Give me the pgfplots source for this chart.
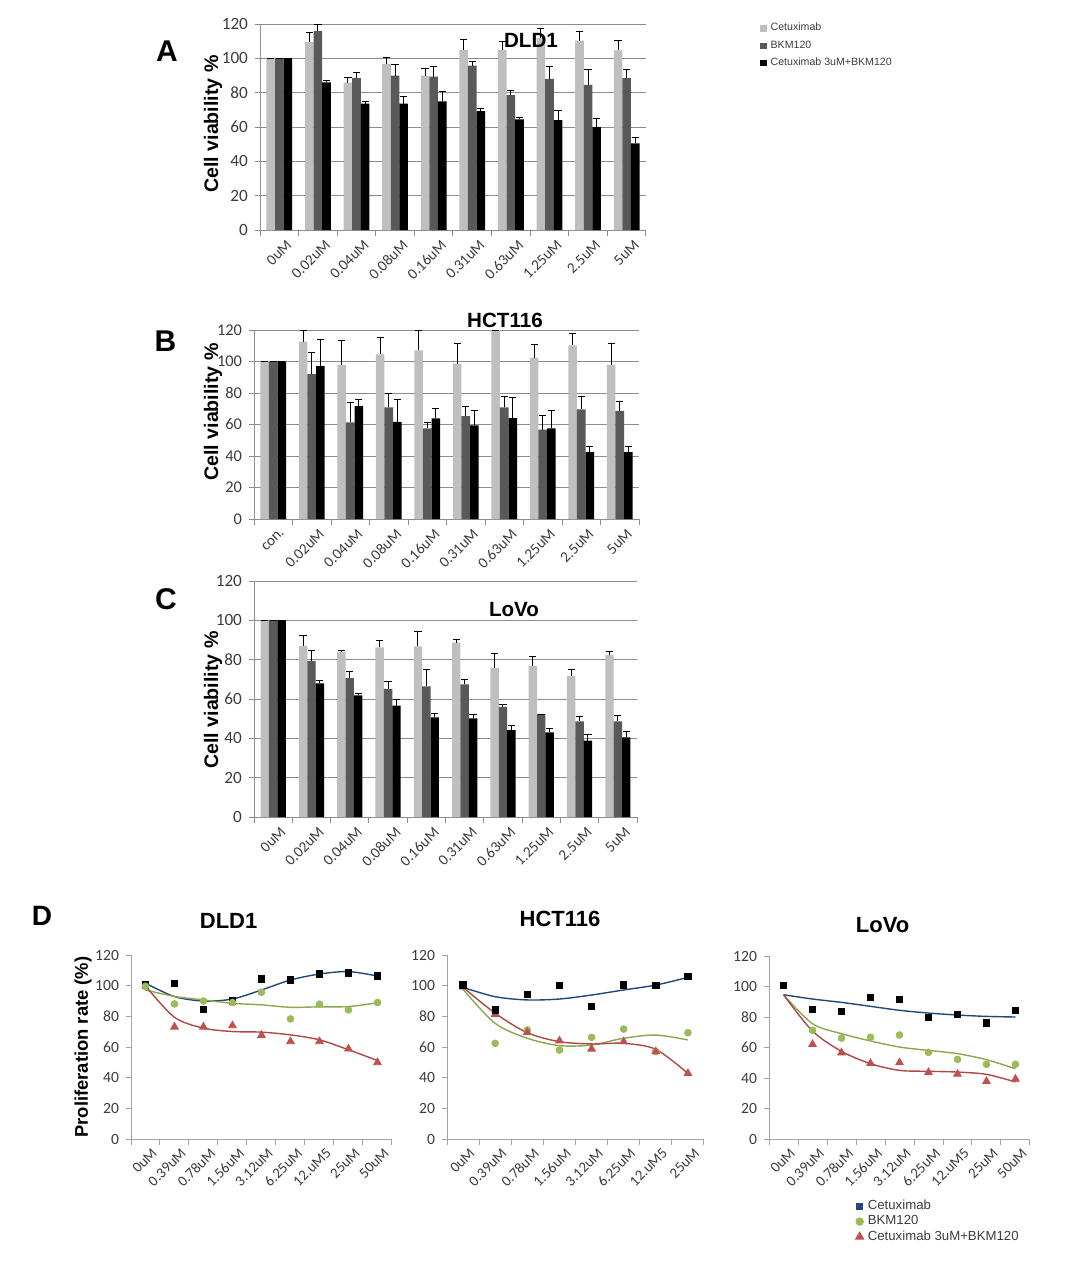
\documentclass[border=0pt]{standalone}
\usepackage{fontspec}
\setmainfont{Carlito}
\newfontfamily\arialf{Liberation Sans}
\usepackage{pgfplots}
\pgfplotsset{compat=1.18}
\usepackage{pgfplotstable}

\definecolor{lg}{RGB}{191,191,191}
\definecolor{dg}{RGB}{89,89,89}
\definecolor{cblue}{RGB}{31,73,125}
\definecolor{cgreen}{RGB}{155,187,89}
\definecolor{cred}{RGB}{192,80,77}
\definecolor{axgray}{RGB}{140,140,140}
\definecolor{tickt}{RGB}{60,60,60}

% Panel A: DLD1
\pgfplotstableread{
x c ce b be k ke
0 100 0 100 0 100 0
1 109.5 5.5 116 4 86 1
2 85.8 3.2 88.5 3.5 73.6 1.2
3 96.7 3.9 90 6.3 73.6 4.1
4 90 4 89.3 6.2 75 5.6
5 105 5.7 95.7 2.2 69.3 1.6
6 105 5 78.6 2.8 64.5 1.1
7 111.7 5.6 88 7 64 5.7
8 110.3 5.4 84.5 8.9 60 4.9
9 104.7 5.4 88.5 4.9 50.5 3.5
}\tA
% Panel B: HCT116
\pgfplotstableread{
x c ce b be k ke
0 100 0 100 0 100 0
1 112.6 7.4 92 13.6 97.1 16.9
2 97.8 15.4 61.4 12.5 71.7 3.9
3 104.5 10.8 70.9 8.9 61.6 14
4 107 13 57.6 3.6 63.9 6.1
5 98.6 12.7 65.4 5.9 59.5 9.7
6 120 0 70.9 6.8 64.1 12.9
7 102.4 8.5 56.7 9.1 57.6 11.6
8 110.3 7.6 69.6 8.1 42.5 3.8
9 97.8 13.7 68.6 5.9 42.5 3.8
}\tB
% Panel C: LoVo
\pgfplotstableread{
x c ce b be k ke
0 100 0 100 0 100 0
1 87 5.4 79.4 5.4 68 1.2
2 84 0.8 70.6 3.4 61.8 1
3 86.2 3.5 65.2 3.9 56.7 3.1
4 86.8 7.6 66.4 8.4 50.6 2.2
5 88.7 1.7 67.5 2.2 50.1 2
6 75.7 7.4 56 1.2 44.2 2.3
7 76.7 5.1 52.3 0 43 2.2
8 71.8 3.2 48.6 2.3 38.8 3.3
9 82.4 1.9 48.6 3 40.5 2.8
}\tC

\pgfplotsset{
  sqleg/.style={legend image code/.code={\fill[##1] (-3pt,-1.6pt) rectangle (0.2pt,1.6pt);}},
  barax/.style={
    scale only axis, axis lines*=left,
    ymin=0, ymax=120, ytick={0,20,...,120},
    xmin=-0.5, xmax=9.5, xtick={0,...,9},
    minor xtick={-0.5,0.5,...,9.5},
    tick align=outside,
    major tick length=2.5pt, minor tick length=3pt,
    axis line style={axgray, line width=0.5pt},
    tick style={axgray, line width=0.5pt},
    major x tick style={draw=none},
    ymajorgrids, grid style={axgray, line width=0.5pt},
    ybar=0pt, bar width=4.3pt,
    /pgf/number format/assume math mode=true,
    yticklabel style={font=\fontsize{8.6}{9}\selectfont, text=tickt},
    xticklabel style={rotate=45, anchor=north east, font=\fontsize{7.6}{8}\selectfont, text=tickt, inner sep=1pt, yshift=-2.5pt, xshift=2pt},
  },
  ebar/.style={draw=none, sqleg, error bars/.cd, y dir=plus, y explicit,
    error bar style={black, line width=0.5pt},
    error mark options={rotate=90, black, mark size=1.8pt, line width=0.5pt}},
  dax/.style={
    scale only axis, axis lines*=left,
    ymin=0, ymax=120, ytick={0,20,...,120},
    xmin=0, xtick={0.5,1.5,...,8.5},
    tick align=outside,
    major tick length=2.5pt, minor tick length=3pt,
    axis line style={axgray!80, line width=0.5pt},
    tick style={axgray!80, line width=0.5pt},
    major x tick style={draw=none},
    /pgf/number format/assume math mode=true,
    yticklabel style={font=\fontsize{7.8}{8}\selectfont, text=tickt},
    xticklabel style={rotate=45, anchor=north east, font=\fontsize{7.4}{8}\selectfont, text=tickt, inner sep=1pt, yshift=-2pt, xshift=2pt},
  },
  sqm/.style={only marks, mark=square*, mark size=1.6pt, mark options={draw=black, fill=black}},
  gcm/.style={only marks, mark=*, mark size=1.7pt, mark options={draw=cgreen, fill=cgreen}},
  rtm/.style={only marks, mark=triangle*, mark size=2.2pt, mark options={draw=cred, fill=cred}},
  bln/.style={cblue, line width=0.7pt, smooth, no marks},
  gln/.style={cgreen!90!black, line width=0.7pt, smooth, no marks},
  rln/.style={cred!90!black, line width=0.7pt, smooth, no marks},
}

\begin{document}
\begin{tikzpicture}
\path[use as bounding box] (0,0) rectangle (532.5pt,-639.5pt);

% ---------- A ----------
\begin{axis}[barax, at={(130pt,-115pt)}, anchor=south west, width=193pt, height=103pt,
  xticklabels={0uM,0.02uM,0.04uM,0.08uM,0.16uM,0.31uM,0.63uM,1.25uM,2.5uM,5uM},
  legend style={at={(1.295,1.025)}, anchor=north west, draw=none, fill=none,
    font=\arialf\fontsize{5.3}{6}\selectfont, text=tickt, row sep=-0.6pt, inner sep=0pt},
  legend cell align=left]
\addplot[fill=lg, ebar] table[x=x, y=c, y error=ce]{\tA};
\addplot[fill=dg, ebar] table[x=x, y=b, y error=be]{\tA};
\addplot[fill=black, ebar] table[x=x, y=k, y error=ke]{\tA};
\legend{Cetuximab, BKM120, Cetuximab 3uM+BKM120}
\end{axis}

% ---------- B ----------
\begin{axis}[barax, at={(127pt,-259.5pt)}, anchor=south west, width=192.5pt, height=94.5pt,
  yticklabel style={font=\fontsize{8.2}{9}\selectfont},
  xticklabels={con.,0.02uM,0.04uM,0.08uM,0.16uM,0.31uM,0.63uM,1.25uM,2.5uM,5uM}]
\addplot[fill=lg, ebar] table[x=x, y=c, y error=ce]{\tB};
\addplot[fill=dg, ebar] table[x=x, y=b, y error=be]{\tB};
\addplot[fill=black, ebar] table[x=x, y=k, y error=ke]{\tB};
\end{axis}

% ---------- C ----------
\begin{axis}[barax, at={(127pt,-408.5pt)}, anchor=south west, width=191.5pt, height=118pt,
  bar width=4.2pt,
  xticklabels={0uM,0.02uM,0.04uM,0.08uM,0.16uM,0.31uM,0.63uM,1.25uM,2.5uM,5uM}]
\addplot[fill=lg, ebar] table[x=x, y=c, y error=ce]{\tC};
\addplot[fill=dg, ebar] table[x=x, y=b, y error=be]{\tC};
\addplot[fill=black, ebar] table[x=x, y=k, y error=ke]{\tC};
\end{axis}

% ---------- D: DLD1 ----------
\begin{axis}[dax, at={(65.5pt,-569.5pt)}, anchor=south west, width=130.5pt, height=92pt,
  xmax=9, minor xtick={0,...,9},
  xticklabels={0uM,0.39uM,0.78uM,1.56uM,3.12uM,6.25uM,12.uM5,25uM,50uM}]
\addplot[bln] coordinates {(0.5,101.6)(1.5,92.9)(2.5,90)(3.5,91.3)(4.5,97.2)(5.5,103.7)(6.5,107.6)(7.5,109.2)(8.5,106.3)};
\addplot[gln] coordinates {(0.5,97.2)(1.5,93)(2.5,90.7)(3.5,88.5)(4.5,87.5)(5.5,85.9)(6.5,86.2)(7.5,86.4)(8.5,88.8)};
\addplot[rln] coordinates {(0.5,99.8)(1.5,79.4)(2.5,72.3)(3.5,70.1)(4.5,69.7)(5.5,67.9)(6.5,64.7)(7.5,58.2)(8.5,51.2)};
\addplot[sqm] coordinates {(0.5,100.5)(1.5,101.6)(2.5,84.6)(3.5,90)(4.5,104.4)(5.5,103.7)(6.5,107.6)(7.5,108.3)(8.5,106.3)};
\addplot[gcm] coordinates {(0.5,99.6)(1.5,88.1)(2.5,90)(3.5,89)(4.5,95.7)(5.5,78.3)(6.5,87.9)(7.5,84.2)(8.5,89)};
\addplot[rtm] coordinates {(1.5,73.1)(2.5,73.1)(3.5,74)(4.5,67.7)(5.5,63.6)(6.5,63.6)(7.5,58.8)(8.5,49.9)};
\end{axis}

% ---------- D: HCT116 ----------
\begin{axis}[dax, at={(223.5pt,-569.5pt)}, anchor=south west, width=128.5pt, height=92pt,
  xmax=8, xtick={0.5,1.5,...,7.5}, minor xtick={0,...,8},
  xticklabels={0uM,0.39uM,0.78uM,1.56uM,3.12uM,6.25uM,12.uM5,25uM}]
\addplot[bln] coordinates {(0.5,98.9)(1.5,92.8)(2.5,90.7)(3.5,91.3)(4.5,93.9)(5.5,97.2)(6.5,100.4)(7.5,105.4)};
\addplot[gln] coordinates {(0.5,97.6)(1.5,75.4)(2.5,65.7)(3.5,60.9)(4.5,61.3)(5.5,65.7)(6.5,67.8)(7.5,64.6)};
\addplot[rln] coordinates {(0.5,98.9)(1.5,82)(2.5,69.3)(3.5,63.5)(4.5,62)(5.5,62.4)(6.5,58.5)(7.5,42.8)};
\addplot[gcm] coordinates {(0.5,99.5)(1.5,62.4)(2.5,71.1)(3.5,58)(4.5,66.3)(5.5,71.7)(6.5,57)(7.5,69.3)};
\addplot[rtm] coordinates {(0.5,99.3)(1.5,81.3)(2.5,69.6)(3.5,64.1)(4.5,58.7)(5.5,63.5)(6.5,57)(7.5,42.8)};
\addplot[sqm] coordinates {(0.5,100.4)(1.5,84.1)(2.5,94.3)(3.5,100)(4.5,86.3)(5.5,100.4)(6.5,100)(7.5,105.9)};
\end{axis}

% ---------- D: LoVo ----------
\begin{axis}[dax, at={(384.5pt,-569.5pt)}, anchor=south west, width=130.5pt, height=91.5pt,
  xmax=9, minor xtick={0,...,9},
  xticklabels={0uM,0.39uM,0.78uM,1.56uM,3.12uM,6.25uM,12.uM5,25uM,50uM},
  legend style={at={(0.33,-0.31)}, anchor=north west, draw=none, fill=none,
    font=\arialf\fontsize{6.6}{7}\selectfont, text=tickt, row sep=-2.6pt, inner sep=0pt},
  legend cell align=left]
\addlegendimage{only marks, mark=square*, mark size=1.6pt, mark options={draw=cblue, fill=cblue}}
\addlegendimage{only marks, mark=*, mark size=1.9pt, mark options={draw=cgreen, fill=cgreen}}
\addlegendimage{only marks, mark=triangle*, mark size=2.4pt, mark options={draw=cred, fill=cred}}
\legend{Cetuximab, BKM120, Cetuximab 3uM+BKM120}
\addplot[bln] coordinates {(0.5,94.6)(1.5,91.8)(2.5,89.6)(3.5,87)(4.5,84.4)(5.5,82.6)(6.5,81.3)(7.5,80.4)(8.5,80)};
\addplot[gln] coordinates {(0.5,94.6)(1.5,75.6)(2.5,69.1)(3.5,64.3)(4.5,60.3)(5.5,58.1)(6.5,56)(7.5,52)(8.5,46.1)};
\addplot[rln] coordinates {(0.5,94.6)(1.5,70.8)(2.5,57.5)(3.5,49.4)(4.5,45)(5.5,44.4)(6.5,43.9)(7.5,42.4)(8.5,37.4)};
\addplot[sqm] coordinates {(0.5,100.8)(1.5,85)(2.5,83.7)(3.5,92.7)(4.5,91.4)(5.5,79.6)(6.5,81.7)(7.5,76.1)(8.5,84.4)};
\addplot[gcm] coordinates {(1.5,71.3)(2.5,66.2)(3.5,66.7)(4.5,68.2)(5.5,56.8)(6.5,52.2)(7.5,49)(8.5,49)};
\addplot[rtm] coordinates {(1.5,62.1)(2.5,56.6)(3.5,49.6)(4.5,50.1)(5.5,43.7)(6.5,42.6)(7.5,37.8)(8.5,39.3)};
\end{axis}

% ---------- labels ----------
\begin{scope}[every node/.style={font=\arialf\bfseries, inner sep=0pt}]
\node[font=\arialf\bfseries\fontsize{15}{15}\selectfont] at (83.5pt,-25.5pt) {A};
\node[font=\arialf\bfseries\fontsize{15}{15}\selectfont] at (82.7pt,-170.5pt) {B};
\node[font=\arialf\bfseries\fontsize{15}{15}\selectfont] at (83pt,-299.5pt) {C};
\node[font=\arialf\bfseries\fontsize{14}{14}\selectfont] at (21pt,-458pt) {D};
\node[font=\arialf\bfseries\fontsize{10.3}{11}\selectfont] at (265.5pt,-20pt) {DLD1};
\node[font=\arialf\bfseries\fontsize{10.3}{11}\selectfont] at (252.5pt,-160pt) {HCT116};
\node[font=\arialf\bfseries\fontsize{10.3}{11}\selectfont] at (257pt,-305pt) {LoVo};
\node[font=\arialf\bfseries\fontsize{11}{12}\selectfont] at (114.3pt,-460.3pt) {DLD1};
\node[font=\arialf\bfseries\fontsize{11}{12}\selectfont] at (280pt,-459.3pt) {HCT116};
\node[font=\arialf\bfseries\fontsize{11}{12}\selectfont] at (441.3pt,-462.3pt) {LoVo};
\node[rotate=90, font=\arialf\bfseries\fontsize{9.8}{10}\selectfont] at (106.5pt,-62pt) {Cell viability \%};
\node[rotate=90, font=\arialf\bfseries\fontsize{9.8}{10}\selectfont] at (106.5pt,-206pt) {Cell viability \%};
\node[rotate=90, font=\arialf\bfseries\fontsize{9.8}{10}\selectfont] at (106.5pt,-350pt) {Cell viability \%};
\node[rotate=90, font=\arialf\bfseries\fontsize{9.2}{10}\selectfont] at (41.5pt,-523.5pt) {Proliferation rate (\%)};
\end{scope}
\end{tikzpicture}
\end{document}
